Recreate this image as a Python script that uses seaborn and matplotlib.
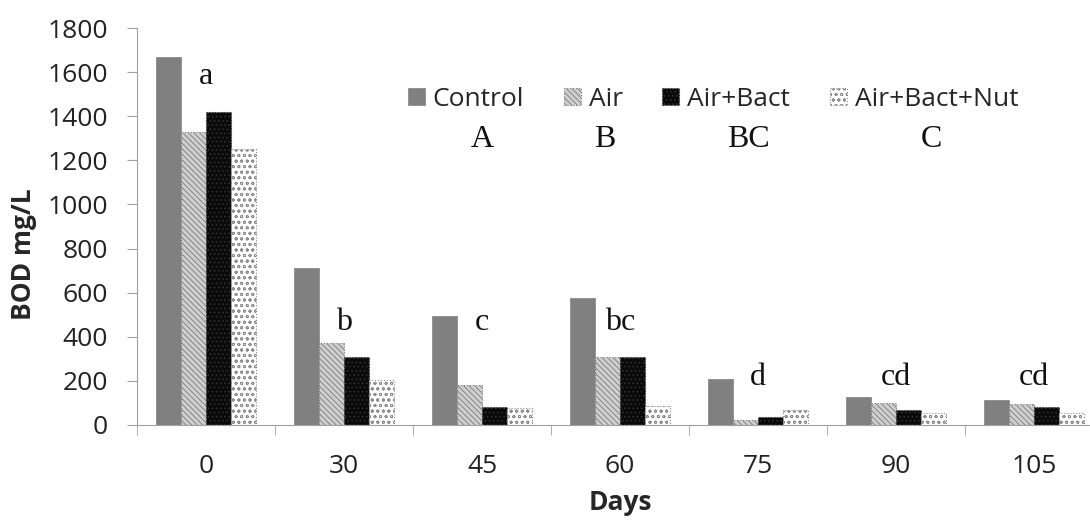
import pandas as pd
import numpy as np
import matplotlib
matplotlib.use("Agg")
import matplotlib.pyplot as plt
from matplotlib.patches import Patch
import seaborn as sns

# values (BOD mg/L)
days = ["0", "30", "45", "60", "75", "90", "105"]
control = [1668, 712, 495, 576, 207, 128, 113]
air = [1328, 372, 181, 307, 23, 98, 94]
air_bact = [1419, 308, 80, 307, 35, 68, 83]
air_bact_nut = [1251, 204, 77, 86, 68, 53, 53]
treatments = ["Control", "Air", "Air+Bact", "Air+Bact+Nut"]

# significance letters (days) and their baseline heights
day_letters = ["a", "b", "c", "bc", "d", "cd", "cd"]
day_letter_y = [1546, 431, 431, 431, 181, 181, 181]
# letters for treatments, placed under the legend
treat_letters = ["A", "B", "BC", "C"]
treat_letter_x = [2.0, 2.89, 3.93, 5.26]

df = pd.DataFrame({
    "Days": days * 4,
    "BOD": control + air + air_bact + air_bact_nut,
    "Treatment": np.repeat(treatments, len(days)),
})

sns.set_style("white")
plt.rcParams["font.family"] = ["Open Sans", "DejaVu Sans"]
plt.rcParams["hatch.linewidth"] = 0.6

fig = plt.figure(figsize=(10.9, 5.2), dpi=100)
ax = fig.add_axes([137 / 1090, 95 / 520, 966 / 1090, 397 / 520])

sns.barplot(data=df, x="Days", y="BOD", hue="Treatment", order=days,
            hue_order=treatments, width=0.73, ax=ax, legend=False,
            saturation=1, errorbar=None)

styles = {
    "Control": dict(facecolor="#808080", edgecolor="#808080", hatch=None,
                    linewidth=0.5, linestyle="-"),
    "Air": dict(facecolor="#cfcfcf", edgecolor="#7a7a7a", hatch="\\\\\\\\\\\\",
                linewidth=0.8, linestyle=":"),
    "Air+Bact": dict(facecolor="#0a0a0a", edgecolor="#333333", hatch="....",
                     linewidth=0.8, linestyle=":"),
    "Air+Bact+Nut": dict(facecolor="#ffffff", edgecolor="#8a8a8a", hatch="ooo",
                         linewidth=0.8, linestyle=":"),
}
for cont, name in zip(ax.containers, treatments):
    st = styles[name]
    for bar in cont:
        bar.set_facecolor(st["facecolor"])
        bar.set_edgecolor(st["edgecolor"])
        bar.set_linewidth(st["linewidth"])
        bar.set_linestyle(st["linestyle"])
        if st["hatch"]:
            bar.set_hatch(st["hatch"])

ax.set_ylim(0, 1800)
ax.set_xlim(-0.5, 6.5)
ax.set_yticks(range(0, 1801, 200))
ax.tick_params(axis="both", labelsize=19, colors="#222222")
ax.tick_params(axis="y", length=7, color="#a0a0a0", direction="out", left=True, pad=14)
ax.tick_params(axis="x", length=0, pad=21)
ax.set_xticks(np.arange(-0.5, 7, 1), minor=True)
ax.tick_params(axis="x", which="minor", length=7, color="#a0a0a0",
               direction="out", bottom=True)

for s in ["top", "right"]:
    ax.spines[s].set_visible(False)
ax.spines["bottom"].set_color("#a0a0a0")
ax.spines["left"].set_color("#a0a0a0")

ax.set_ylabel("BOD mg/L", fontsize=19, fontweight="bold")
ax.set_xlabel("Days", fontsize=19, fontweight="bold", labelpad=7)
ax.yaxis.set_label_coords(-0.104, 0.43)

for i, (lab, yv) in enumerate(zip(day_letters, day_letter_y)):
    ax.text(i, yv, lab, fontsize=23, family="Liberation Serif",
            ha="center", va="baseline", color="#111111")

handles = [Patch(**styles[t]) for t in treatments]
ax.legend(handles, treatments, loc="center left", bbox_to_anchor=(0.256, 0.821),
          ncol=4, frameon=False, fontsize=19, handlelength=0.64,
          handleheight=0.64, handletextpad=0.3, columnspacing=1.5)

for xv, lab in zip(treat_letter_x, treat_letters):
    ax.text(xv, 1260, lab, fontsize=23, family="Liberation Serif",
            ha="center", va="baseline", color="#111111")

fig.savefig("out.png", dpi=100)
